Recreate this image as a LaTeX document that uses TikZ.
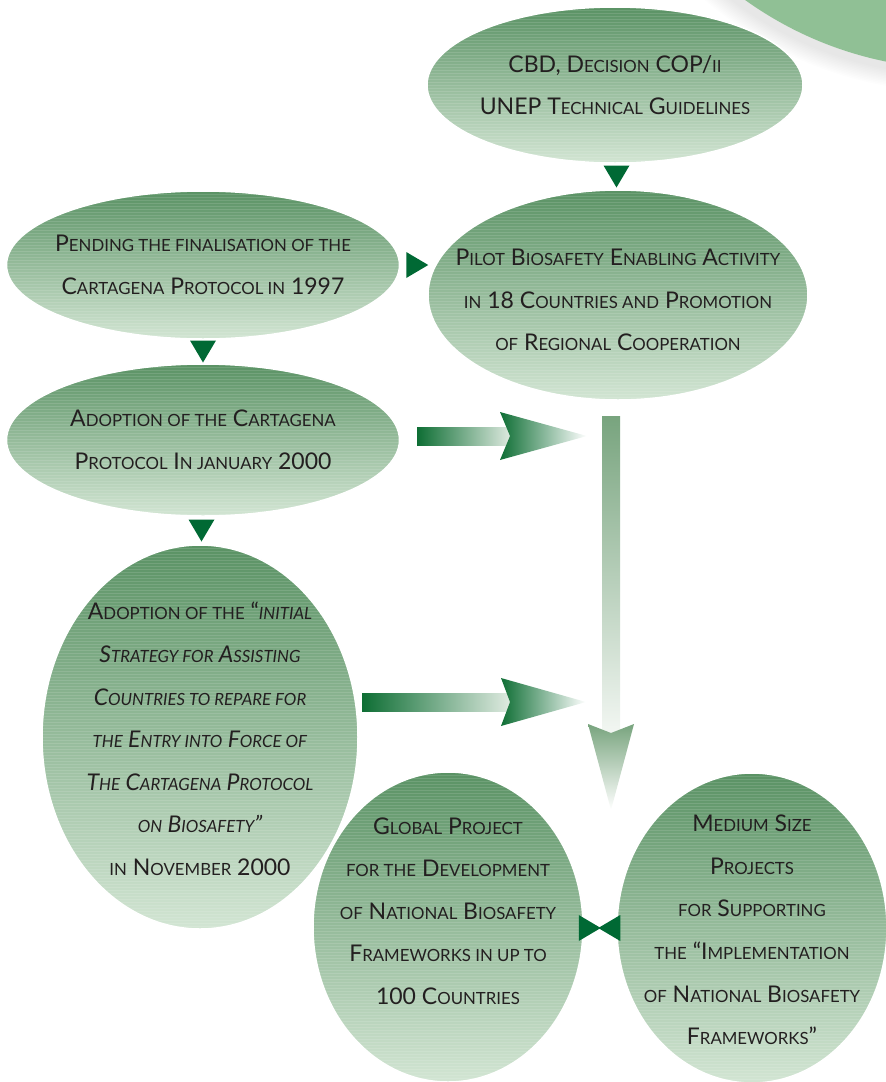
\documentclass[tikz,border=0pt]{standalone}
\usepackage{fontspec}
\setmainfont{Lato}
\usetikzlibrary{shapes.geometric,calc}

\definecolor{leafdark}{RGB}{0,105,52}
\definecolor{arrowdark}{RGB}{14,110,52}
\definecolor{arrowpale}{RGB}{226,236,227}
\definecolor{bubbletop}{RGB}{90,146,100}
\definecolor{bubblebot}{RGB}{210,229,211}
\definecolor{discgreen}{RGB}{144,192,149}
\definecolor{flowtop}{RGB}{120,164,126}
\definecolor{flowpale}{RGB}{243,247,243}
\definecolor{inkgrey}{RGB}{35,31,32}

% fake small capitals
\newcommand\sm[1]{{\fontsize{16.8}{16.8}\selectfont #1}}
% little dark arrow heads
\newcommand\tridown[1]{\fill[tri] ($(#1)+(-13,-11)$) -- ($(#1)+(13,-11)$) -- ($(#1)+(0,11)$) -- cycle;}
\newcommand\triright[1]{\fill[tri] ($(#1)+(-11,-13)$) -- ($(#1)+(11,0)$) -- ($(#1)+(-11,13)$) -- cycle;}
\newcommand\trileft[1]{\fill[tri] ($(#1)+(11,-13)$) -- ($(#1)+(-11,0)$) -- ($(#1)+(11,13)$) -- cycle;}

\tikzset{
  bubble/.style={ellipse, draw=white, line width=1.5pt, top color=bubbletop,
    bottom color=bubblebot, inner sep=0pt,
    path picture={
      \foreach \k in {0,3,...,420}
        \draw[white, opacity=0.12, line width=0.7pt]
          ([yshift=-\k pt]path picture bounding box.north west) --
          ([yshift=-\k pt]path picture bounding box.north east);}},
  caption/.style={align=center, text=inkgrey, inner sep=0pt,
    font=\fontsize{23}{42.6}\selectfont},
  tri/.style={fill=leafdark},
}

\begin{document}
\begin{tikzpicture}[x=1pt,y=-1pt]
  \useasboundingbox (0,0) rectangle (886,1082);

  % corner disc with its soft shadow
  \foreach \r in {1,...,12}
    \fill[black, opacity=0.007] (955,-295) circle ({369pt+\r*1.5pt});
  \fill[discgreen] (960,-300) circle (369pt);

  % bubbles
  \node[bubble, minimum width=376, minimum height=156] (cbd) at (615,85) {};
  \node[caption] at (cbd) {CBD, D\sm{ECISION} COP/\sm{II}\\UNEP T\sm{ECHNICAL} G\sm{UIDELINES}};

  \node[bubble, minimum width=380, minimum height=210] (pilot) at (618,295) {};
  \node[caption] at ($(pilot.center)+(0,5)$) {P\sm{ILOT} B\sm{IOSAFETY} E\sm{NABLING} A\sm{CTIVITY}\\\sm{IN} 18 C\sm{OUNTRIES AND} P\sm{ROMOTION}\\\sm{OF} R\sm{EGIONAL} C\sm{OOPERATION}};

  \node[bubble, minimum width=393, minimum height=148] (pend) at (203,265) {};
  \node[caption] at (pend) {P\sm{ENDING THE FINALISATION OF THE}\\C\sm{ARTAGENA} P\sm{ROTOCOL IN} 1997};

  \node[bubble, minimum width=393, minimum height=152] (adopt) at (203,440) {};
  \node[caption] at (adopt) {A\sm{DOPTION OF THE} C\sm{ARTAGENA}\\P\sm{ROTOCOL} I\sm{N JANUARY} 2000};

  \node[bubble, minimum width=316, minimum height=384] (strat) at (200,737) {};
  \node[caption] at ($(strat.center)+(0,2)$) {A\sm{DOPTION OF THE} ``\textit{\sm{INITIAL}}\\\textit{S\sm{TRATEGY FOR} A\sm{SSISTING}}\\\textit{C\sm{OUNTRIES TO REPARE FOR}}\\\textit{\sm{THE} E\sm{NTRY INTO} F\sm{ORCE OF}}\\\textit{T\sm{HE} C\sm{ARTAGENA} P\sm{ROTOCOL}}\\\textit{\sm{ON} B\sm{IOSAFETY}''}\\\sm{IN} N\sm{OVEMBER} 2000};

  \node[bubble, minimum width=270, minimum height=310] (glob) at (448,927) {};
  \node[caption] at ($(glob.center)+(0,-16)$) {G\sm{LOBAL} P\sm{ROJECT}\\\sm{FOR THE} D\sm{EVELOPMENT}\\\sm{OF} N\sm{ATIONAL} B\sm{IOSAFETY}\\F\sm{RAMEWORKS IN UP TO}\\100 C\sm{OUNTRIES}};

  \node[bubble, minimum width=270, minimum height=310] (medium) at (752,928) {};
  \node[caption] at ($(medium.center)+(0,2)$) {M\sm{EDIUM} S\sm{IZE}\\P\sm{ROJECTS}\\\sm{FOR} S\sm{UPPORTING}\\\sm{THE} ``I\sm{MPLEMENTATION}\\\sm{OF} N\sm{ATIONAL} B\sm{IOSAFETY}\\F\sm{RAMEWORKS}''};

  % small heads between bubbles
  \coordinate (t1) at ($(cbd.south)!0.5!(pilot.north)$);
  \coordinate (t2) at ($(pend.east)+(17,0)$);
  \coordinate (t3) at ($(pend.south)!0.5!(adopt.north)$);
  \coordinate (t4) at ($(adopt.south)!0.5!(strat.north)$);
  \coordinate (t5) at ($(glob.east)+(6,1)$);
  \coordinate (t6) at ($(medium.west)+(-7,0)$);
  \tridown{t1}
  \triright{t2}
  \tridown{t3}
  \tridown{t4}
  \triright{t5}
  \trileft{t6}

  % broad fading arrows
  \shade[left color=arrowdark, right color=arrowpale] (417,427) rectangle (512,445);
  \shade[left color=arrowdark, right color=white] (500,412) -- (587,436) -- (500,460) -- (510,436) -- cycle;
  \shade[left color=arrowdark, right color=arrowpale] (362,693) rectangle (512,711);
  \shade[left color=arrowdark, right color=white] (501,678) -- (586,702) -- (501,726) -- (510,702) -- cycle;
  \shade[top color=flowtop, bottom color=flowpale] (602,416) rectangle (620,735);
  \shade[top color=flowtop, bottom color=white] (588,724) -- (611,733) -- (634,724) -- (611,810) -- cycle;
\end{tikzpicture}
\end{document}
